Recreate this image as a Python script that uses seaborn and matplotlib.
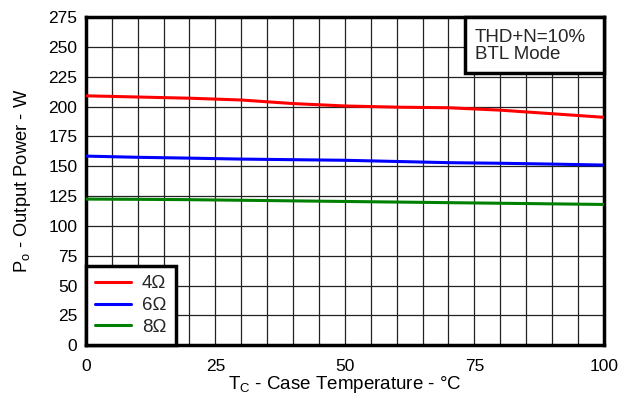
import numpy as np
import pandas as pd
import matplotlib
matplotlib.use("Agg")
import matplotlib.pyplot as plt
from matplotlib.patches import Rectangle
import seaborn as sns

# Case temperature (°C) and output power (W) per load impedance
temp_c = [0, 10, 20, 30, 40, 50, 60, 70, 80, 90, 100]
p_4ohm = [209, 208, 207, 205.5, 202.5, 200.5, 199.5, 199, 197, 194, 191]
p_6ohm = [158.5, 157.5, 156.8, 156, 155.5, 155, 154, 153, 152.5, 151.8, 151]
p_8ohm = [122.5, 122.3, 122, 121.5, 121, 120.5, 120, 119.5, 119, 118.5, 118]
loads = ["4Ω", "6Ω", "8Ω"]
colors = ["#ff0000", "#0000ff", "#008000"]

df = pd.concat([
    pd.DataFrame({"T": temp_c, "P": p, "Load": name})
    for name, p in zip(loads, [p_4ohm, p_6ohm, p_8ohm])
])

sns.set_theme(style="white")
plt.rcParams["font.family"] = ["Liberation Sans", "DejaVu Sans"]

fig, ax = plt.subplots(figsize=(6.31, 3.96), dpi=100)
fig.subplots_adjust(left=0.136, right=0.957, top=0.957, bottom=0.128)

sns.lineplot(data=df, x="T", y="P", hue="Load", palette=colors,
             linewidth=2.2, ax=ax, legend=False, zorder=3)

ax.set_xlim(0, 100)
ax.set_ylim(0, 275)
ax.set_xticks(np.arange(0, 101, 25))
ax.set_yticks(np.arange(0, 276, 25))
ax.set_xticks(np.arange(0, 101, 5), minor=True)
ax.grid(which="both", axis="x", color="#222222", linewidth=0.9)
ax.grid(which="major", axis="y", color="#222222", linewidth=0.9)
ax.set_axisbelow(True)
ax.tick_params(axis="both", which="both", length=0, labelsize=12.5, colors="black")
ax.tick_params(axis="x", pad=9.5)
ax.tick_params(axis="y", pad=6)

for s in ax.spines.values():
    s.set_color("black")
    s.set_linewidth(2.5)

ax.set_xlabel("T$_\\mathregular{C}$ - Case Temperature - °C", fontsize=13.5, color="black", labelpad=0)
ax.set_ylabel("P$_\\mathregular{o}$ - Output Power - W", fontsize=13.2, color="black", labelpad=11)

handles = [plt.Line2D([], [], color=c, linewidth=2.2) for c in colors]
leg = ax.legend(handles, loads, loc="lower left", fontsize=13.5, frameon=True,
                fancybox=False, borderaxespad=0, handlelength=1.9,
                handletextpad=0.6, labelspacing=0.25, borderpad=0.5)
leg.get_frame().set_edgecolor("black")
leg.get_frame().set_linewidth(2.5)
leg.get_frame().set_facecolor("white")
leg.get_frame().set_alpha(1)
leg.set_zorder(6)

# Test-condition box flush with the top-right corner of the axes
ax.add_patch(Rectangle((0.732, 0.829), 0.268, 0.171, transform=ax.transAxes,
                       facecolor="white", edgecolor="black", linewidth=2.5,
                       zorder=5, clip_on=False))
ax.text(0.751, 0.912, "THD+N=10%\nBTL Mode", transform=ax.transAxes,
        ha="left", va="center", fontsize=13.5, linespacing=1.0, zorder=6)

fig.savefig("out.png", dpi=100)
